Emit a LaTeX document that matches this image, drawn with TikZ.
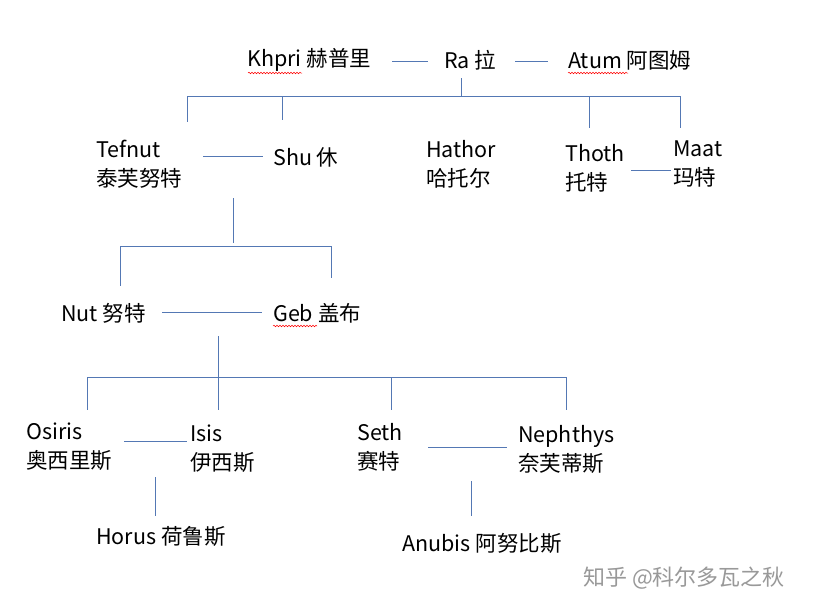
\documentclass[tikz,border=0pt]{standalone}
\usepackage{fontspec}
\setmainfont{Noto Sans CJK SC}
\usetikzlibrary{decorations.pathmorphing}
\definecolor{ln}{RGB}{84,120,180}
\begin{document}
\begin{tikzpicture}[x=1pt,y=-1pt,
  lbl/.style={anchor=west,inner sep=0pt,font=\fontsize{21.5}{26}\selectfont},
  two/.style={lbl,align=left,font=\fontsize{21.5}{29}\selectfont},
  con/.style={draw=ln,line width=0.8pt},
  wavy/.style={draw=red,line width=0.5pt,decorate,decoration={snake,amplitude=0.8pt,segment length=3pt}}]
\useasboundingbox[fill=white] (0,0) rectangle (829,613);
\node[lbl] (khpri) at (247,60) {Khpri 赫普里};
\node[lbl] (ra) at (444,60) {Ra 拉};
\node[lbl] (atum) at (568,60) {Atum 阿图姆};
\draw[wavy] (248,73) -- (302,73);
\draw[wavy] (568,73) -- (628,73);
\draw[con] (392,61) -- (428,61);
\draw[con] (515,61) -- (548,61);
\draw[con] (461,78) -- (461,96);
\draw[con] (187,96) -- (680,96);
\draw[con] (187,96) -- (187,122);
\draw[con] (282,96) -- (282,120);
\draw[con] (589,96) -- (589,128);
\draw[con] (680,96) -- (680,128);
\node[two] (tef) at (96,164) {Tefnut\\泰芙努特};
\node[lbl] (shu) at (273,157) {Shu 休};
\draw[con] (203,156) -- (263,156);
\node[two] (hat) at (426,164) {Hathor\\哈托尔};
\node[two] (tho) at (565,168) {Thoth\\托特};
\node[two] (maat) at (673,164) {Maat\\玛特};
\draw[con] (631,170) -- (671,170);
\draw[con] (233,198) -- (233,243);
\draw[con] (120,246) -- (331,246);
\draw[con] (120,246) -- (120,286);
\draw[con] (331,246) -- (331,278);
\node[lbl] (nut) at (61,313) {Nut 努特};
\node[lbl] (geb) at (273,313) {Geb 盖布};
\draw[wavy] (273,326) -- (317,326);
\draw[con] (162,312) -- (262,312);
\draw[con] (218,336) -- (218,377);
\draw[con] (87,377) -- (566,377);
\foreach \x in {87,218,391,566} \draw[con] (\x,377) -- (\x,410);
\node[two] (osi) at (26,447) {Osiris\\奥西里斯};
\node[two] (isis) at (190,449) {Isis\\伊西斯};
\draw[con] (124,441) -- (187,441);
\node[two] (seth) at (357,447) {Seth\\赛特};
\node[two] (nep) at (518,449) {Nephthys\\奈芙蒂斯};
\draw[con] (428,447) -- (507,447);
\draw[con] (155,477) -- (155,516);
\node[lbl] (hor) at (96,536) {Horus 荷鲁斯};
\draw[con] (471,481) -- (471,516);
\node[lbl] (anu) at (402,543) {Anubis 阿努比斯};
\node[lbl,text=gray!80,font=\fontsize{22}{26}\selectfont] (wm) at (583,578) {知乎 @科尔多瓦之秋};
\end{tikzpicture}
\end{document}
